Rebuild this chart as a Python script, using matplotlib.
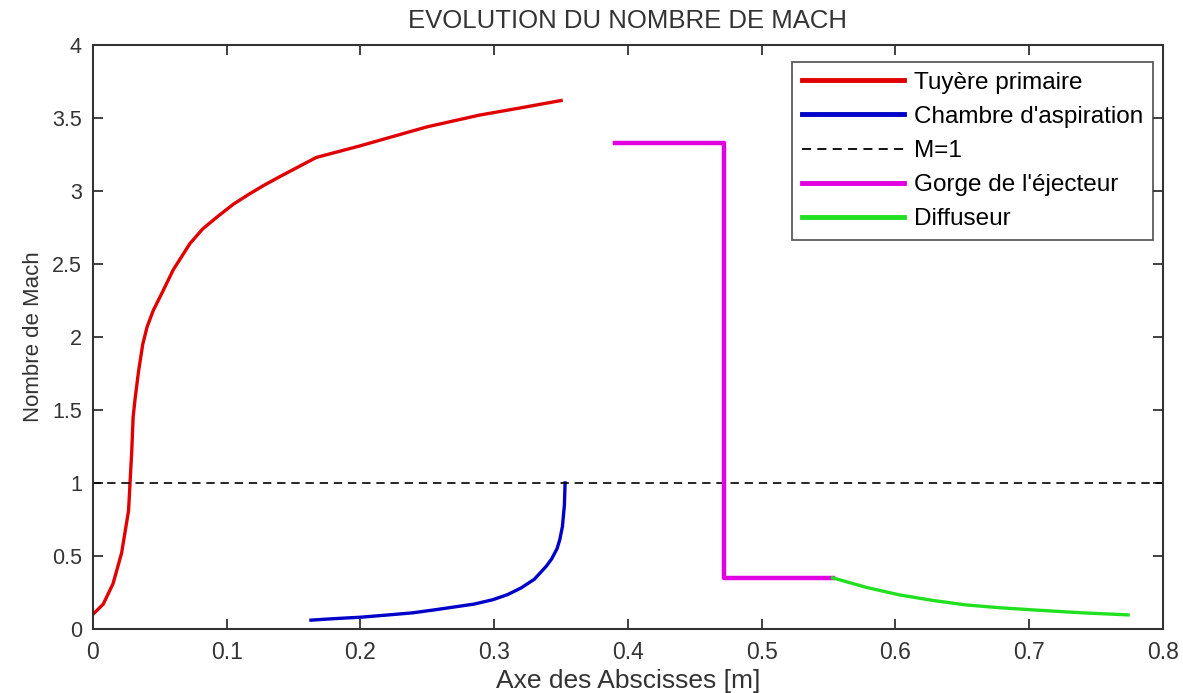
import matplotlib
matplotlib.use('Agg')
import matplotlib.pyplot as plt

plt.rcParams['font.family'] = ['Liberation Sans', 'DejaVu Sans']

# ---- data ----
x_tuyere = [0.0, 0.0077, 0.015, 0.0214, 0.0266, 0.0277, 0.029, 0.030, 0.0314,
            0.034, 0.0372, 0.0405, 0.045, 0.0526, 0.060, 0.0725, 0.082, 0.0925,
            0.105, 0.117, 0.128, 0.140, 0.167, 0.20, 0.2345, 0.25, 0.289, 0.32,
            0.350]
m_tuyere = [0.10, 0.17, 0.31, 0.52, 0.81, 1.0, 1.22, 1.45, 1.57,
            1.76, 1.95, 2.07, 2.18, 2.32, 2.46, 2.64, 2.74, 2.82,
            2.91, 2.98, 3.04, 3.10, 3.23, 3.31, 3.40, 3.44, 3.52, 3.57,
            3.62]

x_chambre = [0.163, 0.18, 0.20, 0.22, 0.239, 0.255, 0.27, 0.285, 0.299, 0.31,
             0.32, 0.33, 0.339, 0.343, 0.347, 0.349, 0.351, 0.3525, 0.353]
m_chambre = [0.06, 0.07, 0.08, 0.095, 0.11, 0.13, 0.15, 0.17, 0.20, 0.235,
             0.28, 0.34, 0.43, 0.48, 0.55, 0.61, 0.70, 0.85, 1.0]

x_gorge = [0.39, 0.472, 0.472, 0.553]
m_gorge = [3.33, 3.33, 0.35, 0.35]

x_diff = [0.553, 0.578, 0.603, 0.628, 0.653, 0.678, 0.703, 0.74, 0.774]
m_diff = [0.35, 0.285, 0.233, 0.195, 0.164, 0.145, 0.13, 0.11, 0.096]

x_ref = [0.0, 0.8]
m_ref = [1.0, 1.0]
# -----------------------------------

fig = plt.figure(figsize=(11.83, 6.93), dpi=100)
ax = fig.add_axes([0.0786, 0.0925, 0.9044, 0.8425])

ax.plot(x_tuyere, m_tuyere, color='#e00000', lw=2.4, label='Tuyère primaire')
ax.plot(x_chambre, m_chambre, color='#0000c8', lw=2.4, label="Chambre d'aspiration")
ax.plot(x_ref, m_ref, color='black', lw=1.2, ls=(0, (5, 3.5)), label='M=1')
ax.plot(x_gorge, m_gorge, color='#e000e0', lw=3.2, label="Gorge de l'éjecteur")
ax.plot(x_diff, m_diff, color='#20e020', lw=2.4, label='Diffuseur')

ax.set_xlim(0, 0.8)
ax.set_ylim(0, 4)
ax.set_xticks([0, 0.1, 0.2, 0.3, 0.4, 0.5, 0.6, 0.7, 0.8])
ax.set_xticklabels(['0', '0.1', '0.2', '0.3', '0.4', '0.5', '0.6', '0.7', '0.8'])
ax.set_yticks([0, 0.5, 1, 1.5, 2, 2.5, 3, 3.5, 4])
ax.set_yticklabels(['0', '0.5', '1', '1.5', '2', '2.5', '3', '3.5', '4'])
ax.tick_params(direction='in', top=True, right=True, length=7, width=1.3,
               colors='#333333')
ax.tick_params(axis='x', labelsize=16.5, pad=9)
ax.tick_params(axis='y', labelsize=15.5, pad=8)
for s in ax.spines.values():
    s.set_linewidth(1.5)
    s.set_color('#333333')

ax.set_xlabel('Axe des Abscisses [m]', fontsize=19, color='#333333', labelpad=3)
ax.set_ylabel('Nombre de Mach', fontsize=16, color='#333333', labelpad=6)
ax.set_title('EVOLUTION DU NOMBRE DE MACH', fontsize=18.5,
             color='#333333', pad=12)

leg = ax.legend(loc='upper right', bbox_to_anchor=(0.9907, 0.971),
                borderaxespad=0, fontsize=17.5, frameon=True, fancybox=False,
                handlelength=4.2, handletextpad=0.42,
                labelspacing=0.5, borderpad=0.4)
leg.get_frame().set_edgecolor('#333333')
leg.get_frame().set_linewidth(1.3)
for h in leg.get_lines():
    h.set_linewidth(3.5)
leg.get_lines()[2].set_linewidth(1.3)

fig.savefig('out.png', dpi=100)
